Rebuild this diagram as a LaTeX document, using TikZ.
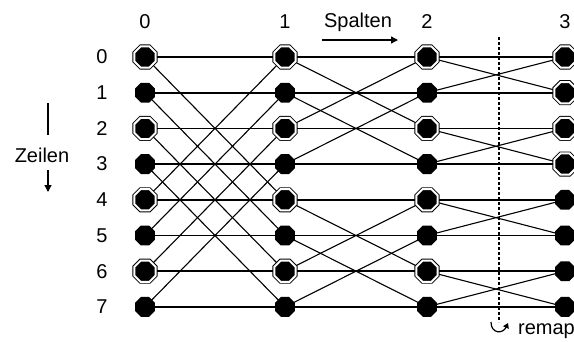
\documentclass[tikz,border=0pt]{standalone}
\usepackage{fontspec}
\setmainfont{Liberation Sans}
\usetikzlibrary{shapes.geometric,backgrounds,arrows.meta}
\begin{document}
\begin{tikzpicture}[x=1pt,y=-1pt,
  lbl/.style={font=\fontsize{20}{20}\selectfont, inner sep=0},
  plainnode/.style={regular polygon, regular polygon sides=8, fill=black,
    minimum size=21.5pt, inner sep=0},
  dblnode/.style={regular polygon, regular polygon sides=8, fill=black,
    draw=black, line width=0.9pt, double=white, double distance=2pt,
    minimum size=23pt, inner sep=0},
  hwire/.style={line width=1.6pt},
  xwire/.style={line width=1.1pt},
  pointer/.style={line width=1.3pt, -{Triangle[length=7pt,width=7pt]}},
]
\useasboundingbox (0,0) rectangle (574,341);

% butterfly nodes: columns 0..2 alternate double/plain, column 3 split in halves
\foreach \c/\x in {0/145,1/285,2/427} {
  \foreach \r in {0,2,4,6}
    \node[dblnode] (n\c\r) at (\x,{57+35.7*\r}) {};
  \foreach \r in {1,3,5,7}
    \node[plainnode] (n\c\r) at (\x,{57+35.7*\r}) {};
}
\foreach \r in {0,...,3}
  \node[dblnode] (n3\r) at (565,{57+35.7*\r}) {};
\foreach \r in {4,...,7}
  \node[plainnode] (n3\r) at (565,{57+35.7*\r}) {};

% straight and crossing wires between neighbouring columns
\begin{scope}[on background layer]
  \foreach \c/\n/\d in {0/1/4,1/2/2,2/3/1} {
    \foreach \r in {0,...,7} {
      \pgfmathtruncatemacro\p{mod(floor(\r/\d),2)==0 ? \r+\d : \r-\d}
      \draw[hwire] (n\c\r.center) -- (n\n\r.center);
      \draw[xwire] (n\c\r.center) -- (n\n\p.center);
    }
  }
\end{scope}

% column and row numbers
\foreach \c/\x in {0/145,1/285,2/427,3/565}
  \node[lbl] (col\c) at (\x,22) {\c};
\foreach \r in {0,...,7}
  \node[lbl] (row\r) at (102,{57+35.7*\r}) {\r};

% axis captions
\node[lbl] (spalten) at (358,22) {Spalten};
\coordinate (sp1) at (322,40);
\coordinate (sp2) at (398,40);
\draw[pointer] (sp1) -- (sp2);

\node[lbl] (zeilen) at (42,155) {Zeilen};
\coordinate (ze1) at (48,103);
\coordinate (ze2) at (48,135);
\coordinate (ze3) at (48,170);
\coordinate (ze4) at (48,192);
\draw[line width=1.3pt] (ze1) -- (ze2);
\draw[pointer] (ze3) -- (ze4);

% remap boundary
\coordinate (dtop) at (499,37);
\coordinate (dbot) at (499,322);
\draw[line width=1.1pt, dash pattern=on 3pt off 2pt] (dtop) -- (dbot);
\coordinate (rm1) at (491,322);
\coordinate (rm2) at (508,323);
\draw[line width=1.2pt, -{Triangle[length=5pt,width=6pt]}]
  (rm1) .. controls (491,334) and (503,334) .. (rm2);
\node[lbl, anchor=east] (remap) at (575,331) {remap};
\end{tikzpicture}
\end{document}
